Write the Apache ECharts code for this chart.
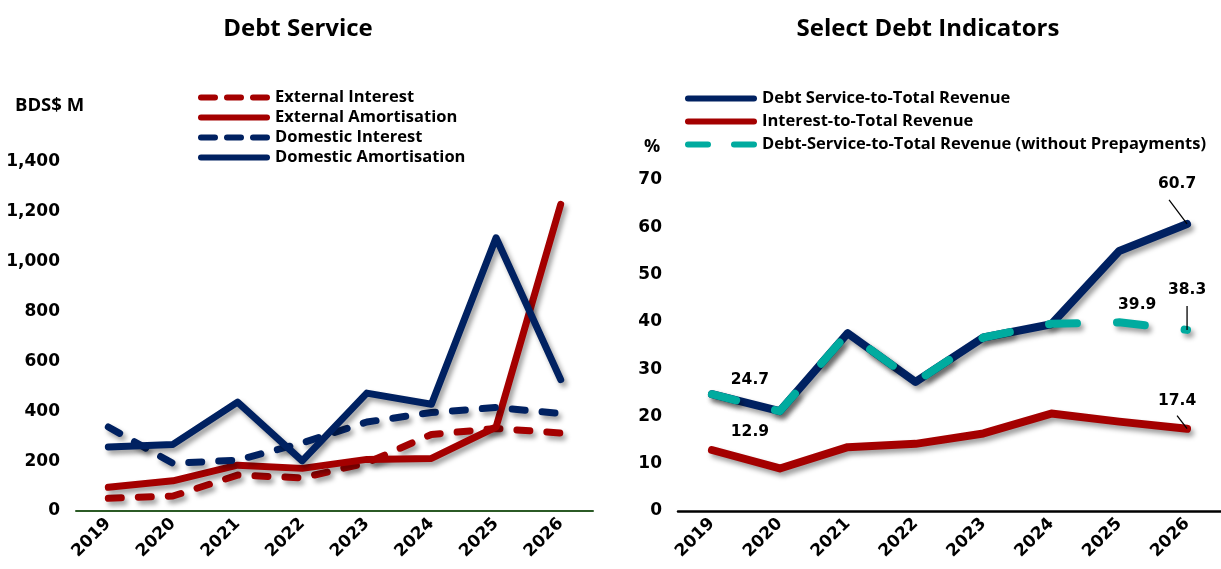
<!DOCTYPE html>
<html>
<head>
<meta charset="utf-8">
<title>Debt Service and Select Debt Indicators</title>
<script src="https://cdn.jsdelivr.net/npm/echarts@6/dist/echarts.min.js"></script>
<style>
  html, body { margin: 0; padding: 0; background: #ffffff; }
  #chart { width: 1221px; height: 569px; }
</style>
</head>
<body>
<div id="chart"></div>
<script>
// Fiscal years shown on both panels
const years = ['2019', '2020', '2021', '2022', '2023', '2024', '2025', '2026'];

// Debt service, BDS$ millions
const externalInterest = [51, 60, 144, 133, 193, 307, 331, 313];
const externalAmortisation = [95, 121, 184, 171, 207, 211, 337, 1230];
const domesticInterest = [337, 191, 204, 273, 357, 395, 415, 391];
const domesticAmortisation = [257, 267, 437, 201, 473, 428, 1096, 527];

// Debt indicators, percent of total revenue
const debtServiceToRevenue = [24.7, 21.1, 37.6, 27.3, 36.7, 39.5, 55.0, 60.7];
const interestToRevenue = [12.9, 9.0, 13.5, 14.2, 16.4, 20.6, 18.9, 17.4];
const debtServiceNoPrepay = [24.7, 21.1, 37.6, 27.3, 36.7, 39.6, 39.9, 38.3];

// Value-axis ranges
const leftTicks = { min: 0, max: 1400, interval: 200 };
const rightTicks = { min: 0, max: 70, interval: 10 };

const TEXT_FONT = '"Open Sans", Lato, sans-serif';
const NUM_FONT = '"DejaVu Sans", "Open Sans", sans-serif';
const RED = '#a40000';
const NAVY = '#002161';
const TEAL = '#00ab9f';

// Legend swatches: a rounded bar, three rounded dashes, two rounded dashes
const ICON_SOLID = 'path://M3,0H69A3,3 0 0 1 69,6H3A3,3 0 0 1 3,0Z';
const ICON_DASH3 = 'path://M3,0H17A3,3 0 0 1 17,6H3A3,3 0 0 1 3,0Z' +
  'M29,0H43A3,3 0 0 1 43,6H29A3,3 0 0 1 29,0Z' +
  'M55,0H69A3,3 0 0 1 69,6H55A3,3 0 0 1 55,0Z';
const ICON_DASH2 = 'path://M3,0H23A3,3 0 0 1 23,6H3A3,3 0 0 1 3,0Z' +
  'M49,0H69A3,3 0 0 1 69,6H49A3,3 0 0 1 49,0Z';

const shadow = {
  shadowColor: 'rgba(0,0,0,0.38)',
  shadowBlur: 5,
  shadowOffsetX: 3,
  shadowOffsetY: 4
};

function lineSeries(name, data, color, dash, xi, width) {
  return {
    name: name,
    type: 'line',
    xAxisIndex: xi,
    yAxisIndex: xi,
    data: data,
    symbol: 'none',
    smooth: false,
    lineStyle: Object.assign({
      color: color,
      width: width,
      type: dash ? dash.pattern : 'solid',
      dashOffset: dash ? dash.offset : 0,
      cap: 'round',
      join: 'round'
    }, shadow),
    itemStyle: { color: color },
    emphasis: { disabled: true },
    silent: true,
    animation: false
  };
}

// Value call-outs on the indicator panel: which point, where its text sits
// relative to the point (px), and an optional leader line start (px).
const callouts = [
  { values: debtServiceNoPrepay, index: 0, dx: 38, dy: -14 },
  { values: interestToRevenue, index: 0, dx: 38, dy: -18 },
  { values: debtServiceToRevenue, index: 7, dx: -10, dy: -40, leader: [-18, -24] },
  { values: debtServiceNoPrepay, index: 6, dx: 18, dy: -17 },
  { values: debtServiceNoPrepay, index: 7, dx: 0, dy: -40, leader: [0, -24] },
  { values: interestToRevenue, index: 7, dx: -10, dy: -28, leader: [-10, -13] }
];

const calloutData = callouts.map(function (c) { return [c.index, c.values[c.index]]; });

const axisLabelStyle = {
  color: '#000',
  fontFamily: NUM_FONT,
  fontWeight: 'bold',
  fontSize: 17
};

const legendText = {
  color: '#000', fontFamily: TEXT_FONT, fontWeight: 'bold', fontSize: 16.5, lineHeight: 16
};

const chart = echarts.init(document.getElementById('chart'), null, { renderer: 'canvas' });

chart.setOption({
  backgroundColor: '#ffffff',
  animation: false,
  title: [
    { text: 'Debt Service', left: 293, top: 12, textAlign: 'center',
      textStyle: { color: '#000', fontFamily: TEXT_FONT, fontWeight: 'bold', fontSize: 24 } },
    { text: 'Select Debt Indicators', left: 923, top: 12, textAlign: 'center',
      textStyle: { color: '#000', fontFamily: TEXT_FONT, fontWeight: 'bold', fontSize: 24 } },
    { text: 'BDS$ M', left: 10, top: 91,
      textStyle: { color: '#000', fontFamily: TEXT_FONT, fontWeight: 'bold', fontSize: 18.5 } },
    { text: '%', left: 639, top: 133,
      textStyle: { color: '#000', fontFamily: TEXT_FONT, fontWeight: 'bold', fontSize: 18 } }
  ],
  legend: [
    {
      data: [
        { name: 'External Interest', icon: ICON_DASH3 },
        { name: 'External Amortisation', icon: ICON_SOLID },
        { name: 'Domestic Interest', icon: ICON_DASH3 },
        { name: 'Domestic Amortisation', icon: ICON_SOLID }
      ],
      orient: 'vertical',
      left: 193, top: 84,
      itemWidth: 72, itemHeight: 6, itemGap: 3,
      selectedMode: false,
      textStyle: legendText
    },
    {
      data: [
        { name: 'Debt Service-to-Total Revenue', icon: ICON_SOLID },
        { name: 'Interest-to-Total Revenue', icon: ICON_SOLID },
        { name: 'Debt-Service-to-Total Revenue (without Prepayments)', icon: ICON_DASH2 }
      ],
      orient: 'vertical',
      left: 680, top: 85,
      itemWidth: 72, itemHeight: 6, itemGap: 6,
      selectedMode: false,
      textStyle: legendText
    }
  ],
  grid: [
    { left: 76, right: 628, top: 162, bottom: 58, containLabel: false },
    { left: 678, right: 0, top: 180, bottom: 58, containLabel: false }
  ],
  xAxis: [
    {
      type: 'category', gridIndex: 0, data: years, boundaryGap: true,
      axisLine: { lineStyle: { color: '#2b5a25', width: 2 } },
      axisTick: { show: false },
      axisLabel: Object.assign({ rotate: 45, margin: 10, interval: 0 }, axisLabelStyle)
    },
    {
      type: 'category', gridIndex: 1, data: years, boundaryGap: true,
      axisLine: { lineStyle: { color: '#000', width: 2.5 } },
      axisTick: { show: false },
      axisLabel: Object.assign({ rotate: 45, margin: 10, interval: 0 }, axisLabelStyle)
    }
  ],
  yAxis: [
    {
      type: 'value', gridIndex: 0,
      min: leftTicks.min, max: leftTicks.max, interval: leftTicks.interval,
      axisLine: { show: false }, axisTick: { show: false }, splitLine: { show: false },
      axisLabel: Object.assign({ margin: 16, padding: [4, 0, 0, 0],
        formatter: function (v) { return v.toLocaleString('en-US'); } }, axisLabelStyle)
    },
    {
      type: 'value', gridIndex: 1,
      min: rightTicks.min, max: rightTicks.max, interval: rightTicks.interval,
      axisLine: { show: false }, axisTick: { show: false }, splitLine: { show: false },
      axisLabel: Object.assign({ margin: 16, padding: [4, 0, 0, 0] }, axisLabelStyle)
    }
  ],
  series: [
    lineSeries('External Interest', externalInterest, RED, { pattern: [13, 17], offset: 0 }, 0, 7),
    lineSeries('External Amortisation', externalAmortisation, RED, null, 0, 7),
    lineSeries('Domestic Interest', domesticInterest, NAVY, { pattern: [13, 17], offset: 0 }, 0, 7),
    lineSeries('Domestic Amortisation', domesticAmortisation, NAVY, null, 0, 7),

    lineSeries('Debt Service-to-Total Revenue', debtServiceToRevenue, NAVY, null, 1, 8),
    lineSeries('Interest-to-Total Revenue', interestToRevenue, RED, null, 1, 8),
    lineSeries('Debt-Service-to-Total Revenue (without Prepayments)', debtServiceNoPrepay, TEAL,
      { pattern: [28, 40], offset: 3 }, 1, 8),

    {
      name: 'callouts',
      type: 'custom',
      xAxisIndex: 1,
      yAxisIndex: 1,
      data: calloutData,
      z: 10,
      silent: true,
      clip: false,
      animation: false,
      renderItem: function (params, api) {
        const c = callouts[params.dataIndex];
        const p = api.coord([api.value(0), api.value(1)]);
        const children = [{
          type: 'text',
          x: p[0] + c.dx,
          y: p[1] + c.dy,
          style: {
            text: api.value(1).toFixed(1),
            fill: '#000',
            font: 'bold 15.5px ' + NUM_FONT,
            align: 'center',
            verticalAlign: 'middle'
          }
        }];
        if (c.leader) {
          children.push({
            type: 'line',
            shape: { x1: p[0] + c.leader[0], y1: p[1] + c.leader[1], x2: p[0], y2: p[1] },
            style: { stroke: '#000', lineWidth: 1.3 }
          });
        }
        return { type: 'group', children: children };
      }
    }
  ]
});
</script>
</body>
</html>
